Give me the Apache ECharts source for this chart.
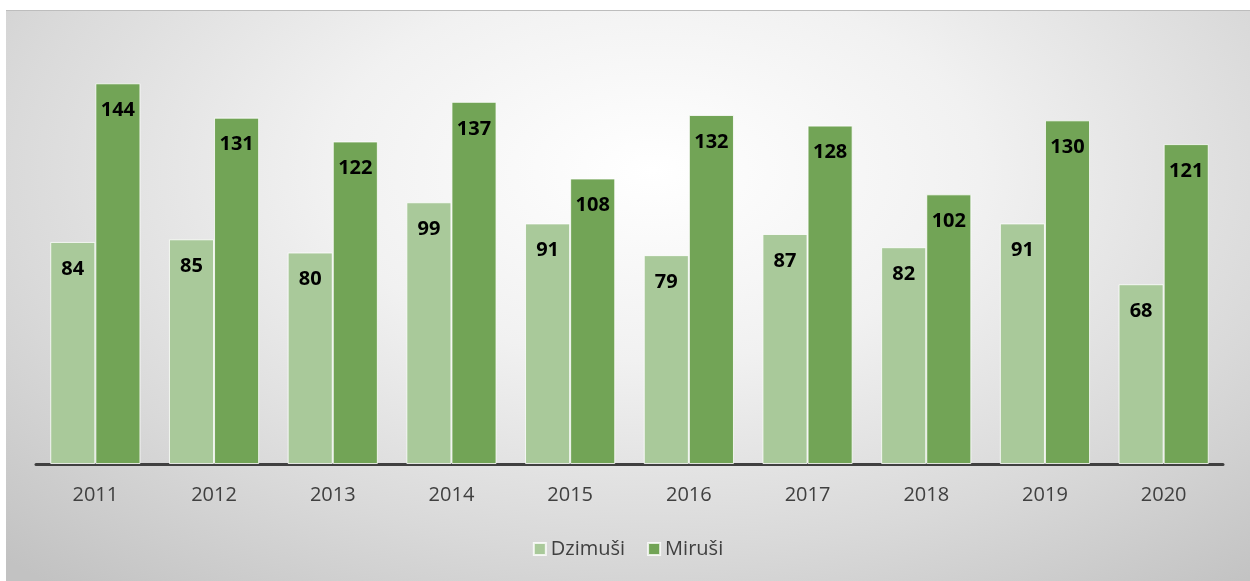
<!DOCTYPE html>
<html>
<head>
<meta charset="utf-8">
<script src="https://cdn.jsdelivr.net/npm/echarts@6/dist/echarts.min.js"></script>
<style>
html, body { margin: 0; padding: 0; background: #ffffff; }
.chart-container {
  position: absolute;
  left: 6px;
  top: 10px;
  width: 1244px;
  height: 571px;
  border-top: 1px solid #bdbdbd;
  box-sizing: border-box;
  background: radial-gradient(ellipse 75% 95% at 52% 28%, #ffffff 0%, #f1f1f1 35%, #d9d9d9 70%, #c2c2c2 100%);
}
</style>
</head>
<body>
<div id="chart" class="chart-container"></div>
<script>
const years = ['2011', '2012', '2013', '2014', '2015', '2016', '2017', '2018', '2019', '2020'];
const dzimusi = [84, 85, 80, 99, 91, 79, 87, 82, 91, 68];
const mirusi = [144, 131, 122, 137, 108, 132, 128, 102, 130, 121];

const myChart = echarts.init(document.getElementById('chart'));

const labelStyle = {
  show: true,
  position: 'insideTop',
  distance: 17,
  color: '#000000',
  fontWeight: 'bold',
  fontSize: 20,
  fontFamily: 'Open Sans'
};

const option = {
  animation: false,
  grid: { left: 30, right: 27, top: 30, bottom: 117 },
  legend: {
    data: ['Dzimuši', 'Miruši'],
    bottom: 17,
    left: 'center',
    itemWidth: 12,
    itemHeight: 12,
    itemGap: 22,
    icon: 'rect',
    textStyle: { color: '#404040', fontSize: 20, fontFamily: 'Open Sans' }
  },
  xAxis: {
    type: 'category',
    data: years,
    axisLine: { lineStyle: { color: '#404040', width: 3 } },
    axisTick: { show: false },
    axisLabel: { color: '#404040', fontSize: 20, fontFamily: 'Open Sans', margin: 21 }
  },
  yAxis: {
    type: 'value',
    min: 0,
    max: 160,
    interval: 20,
    show: false,
    splitLine: { show: false }
  },
  series: [
    {
      name: 'Dzimuši',
      type: 'bar',
      data: dzimusi,
      barGap: '0%',
      barCategoryGap: '24%',
      itemStyle: { color: '#a9c99a', borderColor: 'rgba(255,255,255,0.8)', borderWidth: 1 },
      label: labelStyle
    },
    {
      name: 'Miruši',
      type: 'bar',
      data: mirusi,
      itemStyle: { color: '#72a456', borderColor: 'rgba(255,255,255,0.8)', borderWidth: 1 },
      label: labelStyle
    }
  ]
};

myChart.setOption(option);
</script>
</body>
</html>
